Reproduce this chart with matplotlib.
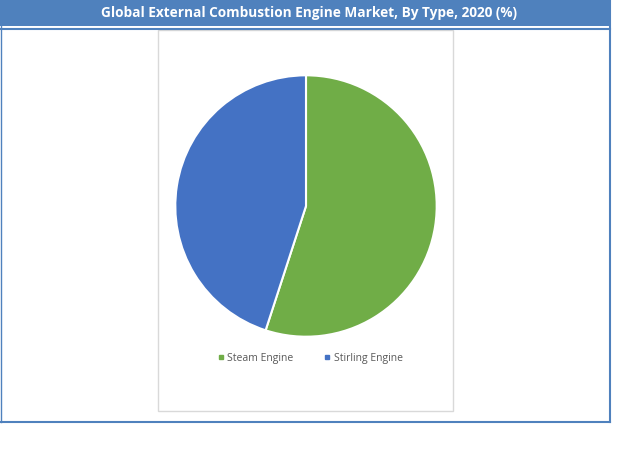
import matplotlib.pyplot as plt
from matplotlib.patches import Rectangle
from matplotlib.lines import Line2D

# data
types = ["Steam Engine", "Stirling Engine"]
shares = [55, 45]
colors = ["#70AD47", "#4472C4"]
title = "Global External Combustion Engine Market, By Type, 2020 (%)"

W, H = 619, 459
fig = plt.figure(figsize=(W / 100, H / 100), dpi=100)


def fx(x):
    return x / W


def fy(y):
    return 1 - y / H


# title bar
fig.patches.append(Rectangle((fx(0), fy(26)), fx(609), 26 / H, transform=fig.transFigure,
                             facecolor="#4F81BD", edgecolor="none", zorder=0))
fig.text(fx(309), fy(13), title, color="white", fontsize=9.8, fontweight="bold",
         family="Open Sans", ha="center", va="center")

# outer blue frame
frame = "#4F81BD"
fig.lines.append(Line2D([fx(0), fx(610)], [fy(28.5), fy(28.5)], color=frame, lw=1.5, transform=fig.transFigure))
fig.lines.append(Line2D([fx(0), fx(610)], [fy(421.5), fy(421.5)], color=frame, lw=1.5, transform=fig.transFigure))
fig.lines.append(Line2D([fx(610), fx(610)], [fy(0), fy(422)], color=frame, lw=1.5, transform=fig.transFigure))
fig.lines.append(Line2D([fx(0.5), fx(0.5)], [fy(0), fy(422)], color=frame, lw=1.0, transform=fig.transFigure))

# inner chart box
fig.patches.append(Rectangle((fx(158), fy(411)), (453 - 158) / W, (411 - 30) / H, transform=fig.transFigure,
                             facecolor="none", edgecolor="#D9D9D9", lw=1.0))

# pie
ax = fig.add_axes([fx(174), fy(338), 264 / W, 264 / H])
wedges, _ = ax.pie(shares, colors=colors, startangle=90, counterclock=False,
                   wedgeprops=dict(edgecolor="white", linewidth=1.5))
ax.set_xlim(-1.01, 1.01)
ax.set_ylim(-1.01, 1.01)
ax.set_aspect("equal")
ax.axis("off")

handles = [Line2D([], [], marker="s", linestyle="", markersize=3.5, color=c) for c in colors]
fig.legend(handles, types, loc="center", bbox_to_anchor=(fx(310), fy(358)), ncol=2,
           frameon=False, handlelength=0.7, handletextpad=0.3, columnspacing=2.9,
           borderpad=0, labelcolor="#595959", prop=dict(family="Open Sans", size=7.5))

fig.savefig("out.png", dpi=100)
